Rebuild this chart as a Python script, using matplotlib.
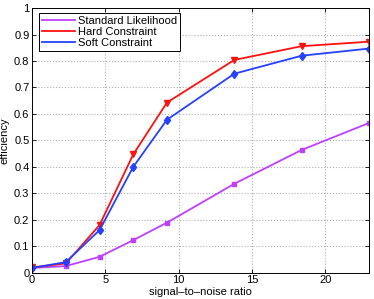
import numpy as np
import matplotlib
matplotlib.use("Agg")
import matplotlib.pyplot as plt

plt.rcParams['font.family'] = ['Liberation Sans', 'DejaVu Sans']
plt.rcParams['font.size'] = 8

snr = [0, 2.3, 4.6, 6.9, 9.2, 13.8, 18.4, 23.0]
standard = [0.018, 0.025, 0.060, 0.123, 0.189, 0.336, 0.464, 0.566]
hard = [0.020, 0.035, 0.180, 0.447, 0.643, 0.804, 0.856, 0.873]
soft = [0.018, 0.040, 0.161, 0.400, 0.578, 0.752, 0.820, 0.847]

fig = plt.figure(figsize=(3.74, 2.99), dpi=100)
ax = fig.add_axes([0.086, 0.088, 0.901, 0.885])

ax.plot(snr, standard, color="#bf3fff", lw=1.3, marker="s", ms=3.5,
        mfc="#bf3fff", label="Standard Likelihood")
ax.plot(snr, hard, color="#ff1010", lw=1.3, marker="v", ms=5,
        mfc="#ff1010", label="Hard Constraint")
ax.plot(snr, soft, color="#2540ff", lw=1.3, marker="d", ms=4.5,
        mfc="#2540ff", label="Soft Constraint")

ax.set_xlim(0, 23)
ax.set_ylim(0, 1)
ax.set_xticks([0, 5, 10, 15, 20])
ax.set_yticks(np.arange(0, 1.01, 0.1))
ax.set_yticklabels(["0", "0.1", "0.2", "0.3", "0.4", "0.5", "0.6", "0.7", "0.8", "0.9", "1"])
ax.grid(True, ls=":", color="#b0b0b0", lw=0.8)
ax.tick_params(direction="in", top=True, right=True, length=3, width=0.6, pad=2)
for s in ax.spines.values():
    s.set_linewidth(0.7)

ax.set_xlabel("signal–to–noise ratio", labelpad=1)
ax.set_ylabel("efficiency", labelpad=3)

leg = ax.legend(loc="upper left", bbox_to_anchor=(0.02, 0.982), fancybox=False,
                edgecolor="black", framealpha=1, handlelength=3.0,
                borderpad=0.25, labelspacing=0.1, handletextpad=0.3,
                borderaxespad=0)
leg.get_frame().set_linewidth(0.7)
for h in leg.legend_handles:
    h.set_marker("")

fig.savefig("out.png", dpi=100)
